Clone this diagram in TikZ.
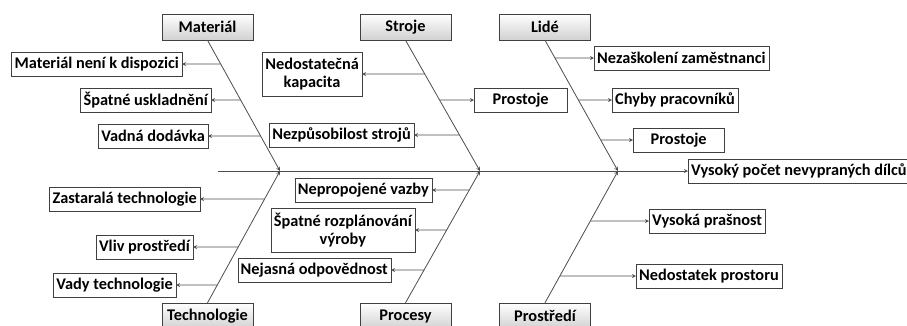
\documentclass[tikz,border=0pt]{standalone}
\usepackage{fontspec}
\setmainfont{Carlito}
\usetikzlibrary{arrows,positioning,calc,shadings}

\begin{document}
\begin{tikzpicture}[
    x=1pt, y=-1pt,
    font=\bfseries\fontsize{16.3}{18}\selectfont,
    catbox/.style={rectangle, draw=black!75, top color=white, bottom color=black!18, minimum width=91pt, minimum height=26pt, inner sep=2pt},
    box/.style={rectangle, draw=black!75, fill=white, minimum height=24pt, inner xsep=3pt, inner ysep=1pt, align=center},
    arrow/.style={->, >=stealth, draw=black!70, line width=0.8pt}
]
    \useasboundingbox (0,0) rectangle (907,325);

    % categories
    \node[catbox] (mat) at (207.5,27) {Materiál};
    \node[catbox] (str) at (405.5,27) {Stroje};
    \node[catbox] (lid) at (545,27) {Lidé};
    \node[catbox] (tec) at (207.5,316) {Technologie};
    \node[catbox] (pro) at (405.5,316) {Procesy};
    \node[catbox] (prs) at (545,316) {Prostředí};

    % spine
    \coordinate (spine) at (218,171);
    \coordinate (tipM) at (280,171);
    \coordinate (tipS) at (480,171);
    \coordinate (tipL) at (618,171);
    \node[box, anchor=west] (effect) at (688,171) {Vysoký počet nevypraných dílců};

    % causes
    \node[box, anchor=east] (matA) at (182,64) {Materiál není k dispozici};
    \node[box, anchor=east] (matB) at (211,100) {Špatné uskladnění};
    \node[box, anchor=east] (matC) at (208,136) {Vadná dodávka};
    \node[box, anchor=east] (tecA) at (200,199) {Zastaralá technologie};
    \node[box, anchor=east] (tecB) at (193,247) {Vliv prostředí};
    \node[box, anchor=east] (tecC) at (176,285) {Vady technologie};
    \node[box, anchor=east, minimum height=44pt] (strA) at (362,74) {Nedostatečná\\kapacita};
    \node[box, anchor=east] (strC) at (414,135) {Nezpůsobilost strojů};
    \node[box, anchor=west, minimum width=93pt] (strB) at (474,100) {Prostoje};
    \node[box, anchor=east] (proA) at (432,190) {Nepropojené vazby};
    \node[box, anchor=east, minimum height=44pt] (proB) at (415,230) {Špatné rozplánování\\výroby};
    \node[box, anchor=east] (proC) at (391,270) {Nejasná odpovědnost};
    \node[box, anchor=west] (lidA) at (594,58) {Nezaškolení zaměstnanci};
    \node[box, anchor=west] (lidB) at (612,100) {Chyby pracovníků};
    \node[box, anchor=west, minimum width=91pt] (lidC) at (633,140) {Prostoje};
    \node[box, anchor=west] (prsA) at (649,221) {Vysoká prašnost};
    \node[box, anchor=west] (prsB) at (636,276) {Nedostatek prostoru};

    \draw[arrow] (spine) -- (effect.west);
    \draw[arrow] (mat.south) -- (tipM);
    \draw[arrow] (tec.north) -- (tipM);
    \draw[arrow] (str.south) -- (tipS);
    \draw[arrow] (pro.north) -- (tipS);
    \draw[arrow] (lid.south) -- (tipL);
    \draw[arrow] (prs.north) -- (tipL);

    \foreach \b/\s/\t in {matA/mat.south/tipM, matB/mat.south/tipM, matC/mat.south/tipM,
        tecA/tec.north/tipM, tecB/tec.north/tipM, tecC/tec.north/tipM,
        strA/str.south/tipS, strC/str.south/tipS,
        proA/pro.north/tipS, proB/pro.north/tipS, proC/pro.north/tipS}
        \draw[arrow] (intersection cs: first line={(\s)--(\t)}, second line={(\b.east)--(\b.west)}) -- (\b.east);
    \foreach \b/\s/\t in {strB/str.south/tipS,
        lidA/lid.south/tipL, lidB/lid.south/tipL, lidC/lid.south/tipL,
        prsA/prs.north/tipL, prsB/prs.north/tipL}
        \draw[arrow] (intersection cs: first line={(\s)--(\t)}, second line={(\b.west)--(\b.east)}) -- (\b.west);
\end{tikzpicture}
\end{document}
